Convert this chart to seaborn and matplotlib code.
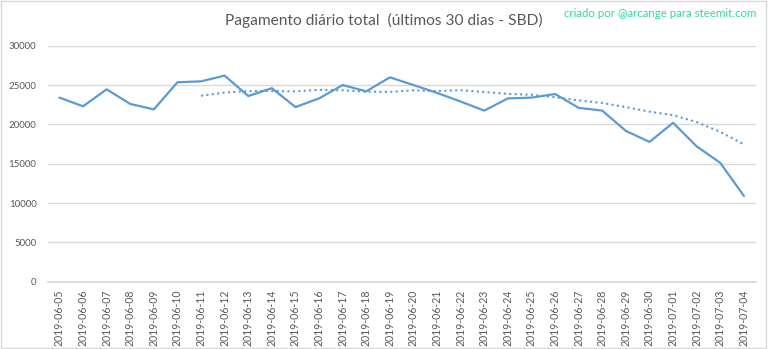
import matplotlib
matplotlib.use("Agg")
import matplotlib.pyplot as plt
import seaborn as sns
import pandas as pd
from matplotlib.patches import Rectangle

# Daily total payout (SBD), last 30 days
dates = ["2019-06-05", "2019-06-06", "2019-06-07", "2019-06-08", "2019-06-09",
         "2019-06-10", "2019-06-11", "2019-06-12", "2019-06-13", "2019-06-14",
         "2019-06-15", "2019-06-16", "2019-06-17", "2019-06-18", "2019-06-19",
         "2019-06-20", "2019-06-21", "2019-06-22", "2019-06-23", "2019-06-24",
         "2019-06-25", "2019-06-26", "2019-06-27", "2019-06-28", "2019-06-29",
         "2019-06-30", "2019-07-01", "2019-07-02", "2019-07-03", "2019-07-04"]
payout = [23400, 22300, 24450, 22600, 21900,
          25350, 25470, 26200, 23600, 24600,
          22200, 23300, 25000, 24200, 25980,
          25000, 24000, 22900, 21750, 23300,
          23400, 23860, 22100, 21750, 19160,
          17770, 20200, 17200, 15100, 10900]
y_ticks = [0, 5000, 10000, 15000, 20000, 25000, 30000]

sns.set_theme(style="white")
plt.rcParams["font.family"] = ["Lato", "DejaVu Sans"]

df = pd.DataFrame({"idx": range(len(dates)), "date": dates, "payout": payout})
# 7-day moving average trend
df["trend"] = df["payout"].rolling(7).mean()

blue = "#5B9BD5"
grey_text = "#595959"

fig = plt.figure(figsize=(7.68, 3.49), dpi=100)
ax = fig.add_axes([0.062, 0.193, 0.922, 0.676])

sns.lineplot(data=df, x="idx", y="payout", ax=ax, color=blue, linewidth=1.6)
sns.lineplot(data=df.dropna(), x="idx", y="trend", ax=ax, color=blue,
             linewidth=1.5, linestyle=(0, (1, 1.6)))

ax.set_xlim(-0.5, len(dates) - 0.5)
ax.set_ylim(0, 30000)
ax.set_yticks(y_ticks)
ax.set_yticklabels([str(v) for v in y_ticks])
ax.set_xticks(df["idx"])
ax.set_xticklabels(dates, rotation=90)
ax.set_xlabel("")
ax.set_ylabel("")
ax.yaxis.grid(True, color="#D9D9D9", linewidth=1)
ax.set_axisbelow(True)
for s in ["left", "right", "top"]:
    ax.spines[s].set_visible(False)
ax.spines["bottom"].set_color("#D9D9D9")
ax.tick_params(axis="both", length=0, colors=grey_text, labelsize=7)
ax.tick_params(axis="x", pad=6, labelsize=7.6)
ax.tick_params(axis="y", pad=8)

fig.text(0.5, 0.942, "Pagamento diário total  (últimos 30 dias - SBD)",
         ha="center", va="center", fontsize=11.2, color=grey_text)
fig.text(0.985, 0.96, "criado por @arcange para steemit.com",
         ha="right", va="center", fontsize=8.3, color="#33D6A6")

# chart area border
fig.patches.append(Rectangle((0.001, 0.002), 0.997, 0.995, transform=fig.transFigure,
                             fill=False, edgecolor="#D9D9D9", linewidth=1))

fig.savefig("out.png", dpi=100)
